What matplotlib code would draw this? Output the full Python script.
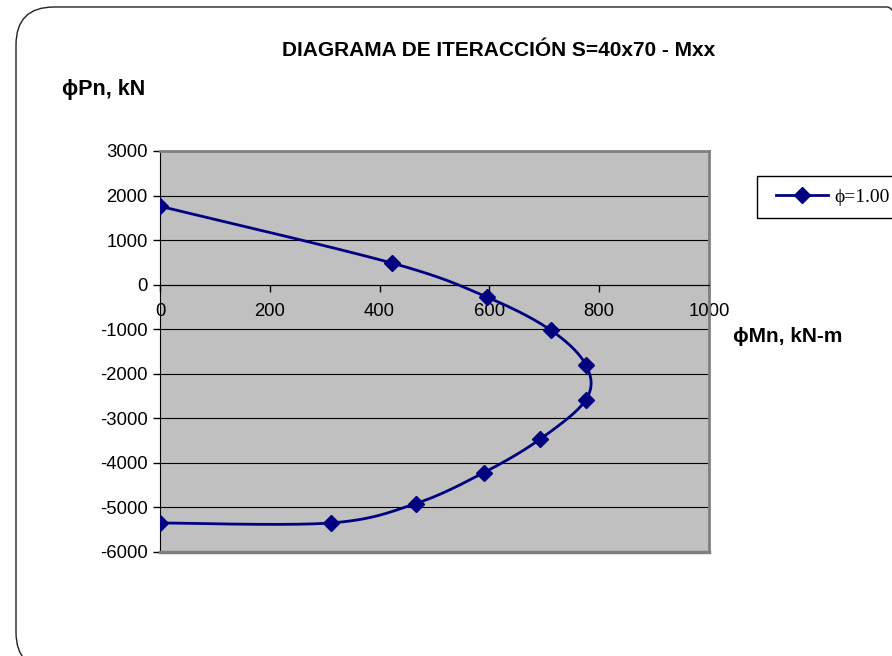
import numpy as np
import matplotlib
matplotlib.use("Agg")
import matplotlib.pyplot as plt
from matplotlib.patches import FancyBboxPatch, Rectangle
from matplotlib.transforms import IdentityTransform

plt.rcParams['font.family'] = ['Liberation Sans', 'DejaVu Sans']
plt.rcParams['axes.unicode_minus'] = False

# interaction diagram points (phi Mn, phi Pn)
mn = [0, 422, 595, 712, 776, 776, 692, 590, 466, 311, 0]
pn = [1760, 487, -276, -1023, -1809, -2578, -3470, -4217, -4912, -5348, -5348]
x_ticks = [0, 200, 400, 600, 800, 1000]
y_ticks = [3000, 2000, 1000, 0, -1000, -2000, -3000, -4000, -5000, -6000]
title = "DIAGRAMA DE ITERACCIÓN S=40x70 - Mxx"
series_label = "ϕ=1.00"

W, H = 892, 656
L, R, T, B = 160, 709, 151, 552


def smooth(xs, ys, sx, sy, n=40):
    # excel-like smoothed line (bezier through points, tension 1/6)
    p = np.column_stack([np.array(xs) * sx, np.array(ys) * sy]).astype(float)
    p = np.vstack([p[0], p, p[-1]])
    segs = []
    t = np.linspace(0, 1, n)[:, None]
    for i in range(1, len(p) - 2):
        p0, p1, p2, p3 = p[i - 1], p[i], p[i + 1], p[i + 2]
        c1 = p1 + (p2 - p0) / 6
        c2 = p2 - (p3 - p1) / 6
        segs.append((1 - t) ** 3 * p1 + 3 * (1 - t) ** 2 * t * c1
                    + 3 * (1 - t) * t ** 2 * c2 + t ** 3 * p2)
    c = np.vstack(segs)
    return c[:, 0] / sx, c[:, 1] / sy


fig = plt.figure(figsize=(W / 100, H / 100), dpi=100)
ax = fig.add_axes([L / W, 1 - B / H, (R - L) / W, (B - T) / H])
ax.set_facecolor('#C0C0C0')
ax.set_xlim(x_ticks[0], x_ticks[-1])
ax.set_ylim(y_ticks[-1], y_ticks[0])

for y in y_ticks:
    ax.axhline(y, color='black', lw=0.8, zorder=1)

sx_, sy_ = (R - L) / 1000, (B - T) / 9000
cx, cy = smooth(mn, pn, sx_, sy_)
ax.plot(cx, cy, color='#000080', lw=2, zorder=3)
ax.plot(mn, pn, linestyle='none', marker='D', ms=8, color='#000080', zorder=4)

ax.spines['bottom'].set_position(('data', 0))
ax.spines['left'].set_color('black')
ax.spines['bottom'].set_color('black')
for s in ['top', 'right']:
    ax.spines[s].set_color('#808080')
    ax.spines[s].set_linewidth(2)
ax.axhline(y_ticks[-1], color='#808080', lw=2.5, clip_on=False, zorder=5)

ax.set_xticks(x_ticks)
ax.set_yticks(y_ticks)
ax.tick_params(direction='out', length=5, width=1, labelsize=13.3, pad=4)
ax.tick_params(axis='x', pad=8)

# legend (frame drawn separately, it runs past the right edge)
ax.plot([], [], color='#000080', lw=2, marker='D', ms=8, label=series_label)
leg = fig.legend(loc='center left', bbox_to_anchor=(776 / W, 1 - 197 / H),
                 borderaxespad=0, borderpad=0, frameon=False,
                 handlelength=2.68, handletextpad=0.3,
                 prop={'family': ['Liberation Serif', 'DejaVu Serif'], 'size': 14})
fig.add_artist(Rectangle((757, H - 218), 200, 42, transform=IdentityTransform(),
                         facecolor='none', edgecolor='black', lw=1))

fig.text(498.5 / W, 1 - 51 / H, title, ha='center', va='center',
         fontsize=15, fontweight='bold')
fig.text(62 / W, 1 - 90 / H, "ϕPn, kN", ha='left', va='center',
         fontsize=15.5, fontweight='bold')
fig.text(733 / W, 1 - 337 / H, "ϕMn, kN-m", ha='left', va='center',
         fontsize=15, fontweight='bold')

frame = FancyBboxPatch((16, H - 670), 909, 663,
                       boxstyle="round,pad=0,rounding_size=38",
                       transform=IdentityTransform(), facecolor='none',
                       edgecolor='#222222', lw=1.0)
fig.add_artist(frame)

fig.savefig("out.png", dpi=100)
